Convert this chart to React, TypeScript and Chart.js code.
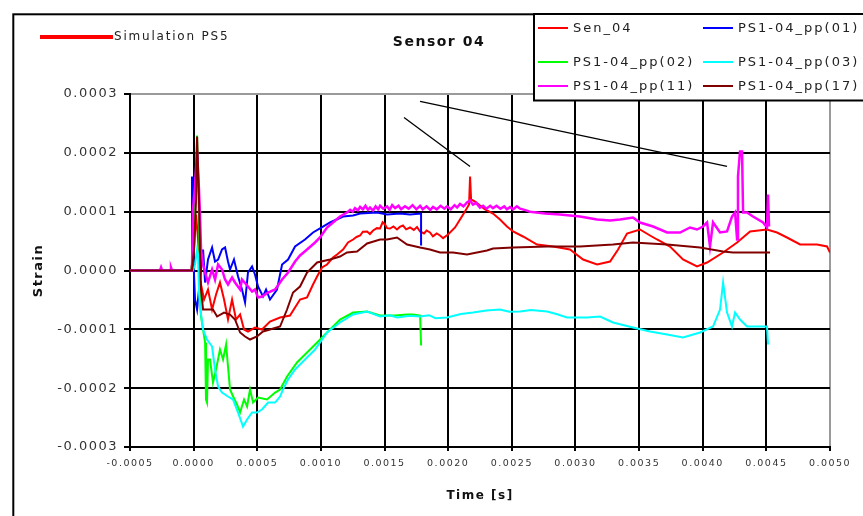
import React, { useEffect, useRef } from 'react';
import { Chart, registerables } from 'chart.js';

Chart.register(...registerables);

const FONT = '"DejaVu Sans", "Liberation Sans", sans-serif';
const MICRO = 1e-6; // arrays below are in microseconds / microstrain

// Axis ranges (seconds / strain)
const X_MIN = -0.0005;
const X_MAX = 0.005;
const X_STEP = 0.0005;
const Y_MIN = -0.0003;
const Y_MAX = 0.0003;
const Y_STEP = 0.0001;

const TITLE = 'Sensor 04';
const X_TITLE = 'Time [s]';
const Y_TITLE = 'Strain';
const SIM_LABEL = 'Simulation PS5';

// Sen_04 (red)
const senTime = [-500, -20, 3, 19, 35, 50, 82, 113, 145, 176, 207, 239, 270, 302, 333, 365, 396, 427, 482, 537, 600, 679, 757, 836, 891, 938, 970, 1009, 1048, 1095, 1127, 1174, 1213, 1253, 1280, 1308, 1330, 1363, 1385, 1410, 1440, 1465, 1485, 1504, 1520, 1543, 1570, 1598, 1620, 1645, 1670, 1700, 1730, 1755, 1779, 1810, 1830, 1857, 1880, 1910, 1936, 1960, 1999, 2054, 2093, 2132, 2164, 2172, 2180, 2211, 2250, 2290, 2352, 2407, 2462, 2510, 2588, 2698, 2824, 2957, 3060, 3170, 3272, 3335, 3405, 3507, 3586, 3641, 3743, 3845, 3955, 4034, 4160, 4270, 4372, 4505, 4584, 4662, 4765, 4898, 4977, 5000];
const senStrain = [0, 0, 35.7, 95.2, 52.7, -15.3, -49.3, -32.3, -66.3, -40.8, -20.4, -49.3, -83.3, -49.3, -83.3, -74.8, -100.3, -103.7, -96.9, -100.3, -86.7, -79.9, -76.5, -49.3, -45.9, -23.8, -10.2, 5.1, 10.2, 22.1, 27.2, 35.7, 47.6, 52.7, 57, 59.5, 66, 66.3, 62, 68, 72, 71.4, 82, 78.2, 72, 71.4, 75, 69.7, 74, 76.5, 70, 73.1, 69, 74, 66.3, 63, 68, 64.6, 58, 63, 59.5, 55, 61.2, 73.1, 86.7, 100.3, 112.2, 159.8, 120.7, 117.3, 110.5, 103.7, 96.9, 86.7, 74.8, 66.3, 57.8, 44.2, 40.8, 35.7, 18.7, 10.2, 15.3, 35.7, 62.9, 69.7, 59.5, 52.7, 40.8, 18.7, 6.8, 13.6, 30.6, 47.6, 66.3, 69.7, 64.6, 56.1, 44.2, 44.2, 40.8, 30.6];

// PS1-04_pp(01) (blue)
const pp01Time = [-500, -20, -13, -5, 11, 27, 42, 58, 74, 90, 113, 145, 168, 192, 223, 247, 270, 286, 317, 349, 380, 404, 427, 459, 482, 506, 545, 569, 600, 655, 695, 742, 797, 875, 938, 993, 1072, 1174, 1253, 1308, 1441, 1520, 1622, 1700, 1787, 1787, 1795];
const pp01Strain = [0, 0, 159.8, 35.7, -49.3, -66.3, -32.3, 1.7, 35.7, -20.4, 18.7, 39.1, 15.3, 18.7, 35.7, 39.1, 15.3, 1.7, 18.7, -10.2, -32.3, -54.4, -3.4, 6.8, -6.8, -27.2, -44.2, -32.3, -49.3, -32.3, 10.2, 18.7, 40.8, 52.7, 64.6, 71.4, 81.6, 91.8, 93.5, 96.9, 98.6, 95.2, 96.9, 95.2, 96.9, 44.2, 44.2];

// PS1-04_pp(02) (green)
const pp02Time = [-500, -20, -5, 11, 27, 42, 50, 58, 74, 90, 97, 105, 113, 129, 152, 176, 207, 231, 255, 270, 286, 310, 341, 365, 396, 420, 443, 467, 506, 577, 640, 679, 734, 812, 891, 970, 1048, 1150, 1253, 1363, 1465, 1583, 1677, 1724, 1779, 1787, 1795];
const pp02Strain = [0, 0, 18.7, 120.7, 229.5, 86.7, -49.3, -78.2, -100.3, -122.4, -219.3, -224.4, -151.3, -151.3, -190.4, -168.3, -134.3, -151.3, -125.8, -163.2, -202.3, -214.2, -227.8, -241.4, -219.3, -231.2, -202.3, -224.4, -215.9, -219.3, -207.4, -202.3, -180.2, -156.4, -139.4, -122.4, -105.4, -83.3, -71.4, -69.7, -76.5, -76.5, -74.8, -74.8, -76.5, -125.8, -125.8];

// PS1-04_pp(03) (cyan)
const pp03Time = [-500, -20, -5, 11, 27, 35, 42, 50, 74, 105, 145, 168, 192, 223, 270, 310, 349, 388, 420, 459, 498, 537, 585, 640, 679, 702, 742, 797, 875, 954, 1048, 1150, 1253, 1363, 1465, 1540, 1600, 1700, 1779, 1850, 1900, 1991, 2100, 2195, 2300, 2407, 2480, 2565, 2650, 2777, 2850, 2934, 3091, 3193, 3295, 3452, 3586, 3720, 3845, 3979, 4081, 4136, 4160, 4191, 4230, 4254, 4293, 4348, 4505, 4513];
const pp03Strain = [0, 0, 0, 10.2, 35.7, 27.2, -37.4, -61.2, -100.3, -117.3, -129.2, -168.3, -197.2, -207.4, -214.2, -219.3, -241.4, -265.2, -253.3, -241.4, -241.4, -236.3, -224.4, -224.4, -214.2, -202.3, -185.3, -168.3, -151.3, -134.3, -105.4, -88.4, -74.8, -69.7, -78.2, -76, -80, -77, -78.2, -76, -81, -79.9, -74, -71.4, -68, -66.3, -70, -69.7, -67, -69.7, -74, -79.9, -79.9, -78.2, -88.4, -96.9, -103.7, -108.8, -113.9, -105.4, -95.2, -66.3, -20.4, -71.4, -95.2, -71.4, -83.3, -95.2, -95.2, -125.8];

// PS1-04_pp(11) (magenta)
const pp11Time = [-500, -264, -256, -248, -185, -178, -170, -13, -5, 11, 27, 42, 50, 58, 74, 90, 113, 145, 168, 192, 223, 247, 270, 302, 325, 365, 380, 427, 459, 482, 506, 537, 585, 640, 695, 742, 797, 836, 891, 954, 993, 1048, 1095, 1150, 1205, 1230, 1250, 1268, 1290, 1308, 1330, 1350, 1370, 1386, 1410, 1430, 1450, 1465, 1490, 1520, 1540, 1560, 1583, 1610, 1630, 1661, 1690, 1720, 1750, 1779, 1800, 1830, 1860, 1881, 1910, 1940, 1970, 1991, 2020, 2050, 2070, 2093, 2120, 2150, 2172, 2195, 2220, 2250, 2274, 2300, 2330, 2352, 2380, 2410, 2440, 2462, 2486, 2510, 2540, 2565, 2600, 2643, 2761, 2879, 3036, 3170, 3272, 3350, 3452, 3507, 3610, 3720, 3822, 3900, 3955, 4002, 4034, 4057, 4081, 4136, 4191, 4230, 4254, 4270, 4277, 4293, 4309, 4317, 4348, 4395, 4474, 4505, 4513, 4521];
const pp11Strain = [0, 0, 5.1, 0, 0, 5.1, 0, 0, 103.7, 146.2, 202.3, 137.7, 95.2, 35.7, 10.2, -3.4, -20.4, 1.7, -15.3, 10.2, 1.7, -15.3, -23.8, -11.9, -20.4, -32.3, -15.3, -27.2, -35.7, -32.3, -45.9, -44.2, -37.4, -32.3, -15.3, -3.4, 15.3, 25.5, 35.7, 47.6, 56.1, 73.1, 81.6, 91.8, 98.6, 103, 100, 106, 102, 108, 104, 110, 103, 107, 102, 109, 104, 110, 105, 109, 103, 111, 106, 110, 104, 109, 105, 111, 104, 110, 104, 109, 103, 108, 104, 110, 105, 109, 104, 111, 107, 113, 109, 116, 119, 112, 115, 107, 110, 105, 110, 106, 110, 105, 109, 104, 108, 104, 109, 105, 103, 100, 96.9, 95.2, 91.8, 86.7, 85.0, 86.7, 90.1, 81.6, 74.8, 64.6, 64.6, 73.1, 69.7, 74.8, 81.6, 40.8, 81.6, 64.6, 66.3, 91.8, 98.6, 52.7, 159.8, 202.3, 202.3, 98.6, 98.6, 91.8, 81.6, 73.1, 129.2, 74.8];

// PS1-04_pp(17) (dark red)
const pp17Time = [-500, -13, 3, 19, 27, 42, 50, 58, 74, 105, 152, 184, 239, 286, 325, 365, 404, 443, 498, 545, 600, 679, 734, 781, 836, 891, 970, 1072, 1150, 1205, 1284, 1363, 1465, 1520, 1598, 1677, 1779, 1857, 1936, 2038, 2148, 2305, 2352, 2510, 2777, 3036, 3295, 3452, 3720, 3979, 4160, 4238, 4529];
const pp17Strain = [0, 0, 35.7, 120.7, 227.8, 120.7, 35.7, -32.3, -66.3, -66.3, -66.3, -78.2, -71.4, -74.8, -83.3, -105.4, -112.2, -117.3, -112.2, -103.7, -100.3, -95.2, -66.3, -37.4, -27.2, -3.4, 13.6, 18.7, 23.8, 30.6, 32.3, 45.9, 52.7, 52.7, 56.1, 44.2, 39.1, 35.7, 30.6, 30.6, 27.2, 34.0, 37.4, 39.1, 40.8, 40.8, 44.2, 47.6, 44.2, 39.1, 32.3, 30.6, 30.6];

// Annotation pointer lines
const pointerATime = [1653, 2172];
const pointerAStrain = [260.1, 176.8];
const pointerBTime = [1779, 4191];
const pointerBStrain = [287.3, 176.8];

function pts(t: number[], s: number[]) {
  const n = Math.min(t.length, s.length);
  const out: { x: number; y: number }[] = [];
  for (let i = 0; i < n; i++) out.push({ x: t[i] * MICRO, y: s[i] * MICRO });
  return out;
}

function fmt(v: number | string) {
  const n = Number(v);
  if (Math.abs(n) < 1e-12) return '0.0000';
  return n.toFixed(4);
}

const framePlugin = {
  id: 'frame',
  beforeDraw(chart: any) {
    const ctx = chart.ctx;
    ctx.save();
    ctx.fillStyle = '#ffffff';
    ctx.fillRect(0, 0, chart.width, chart.height);
    ctx.strokeStyle = '#000000';
    ctx.lineWidth = 2;
    ctx.strokeRect(13.3, 14.3, chart.width + 40, chart.height + 40);
    ctx.restore();
    try { ctx.letterSpacing = '1.5px'; } catch (e) { /* ignore */ }
  },
};

const legendPlugin = {
  id: 'customLegend',
  afterDraw(chart: any) {
    const ctx = chart.ctx;
    ctx.save();
    const sets = chart.data.datasets as any[];
    // simulation entry at top-left
    const sim = sets.find((d) => d.legendKind === 'sim');
    if (sim) {
      ctx.strokeStyle = sim.borderColor;
      ctx.lineWidth = 4;
      ctx.beginPath();
      ctx.moveTo(40, 37);
      ctx.lineTo(113, 37);
      ctx.stroke();
      try { ctx.letterSpacing = '1.8px'; } catch (e) { /* ignore */ }
      ctx.font = `12px ${FONT}`;
      ctx.fillStyle = '#222';
      ctx.textBaseline = 'middle';
      ctx.textAlign = 'left';
      ctx.fillText(sim.label, 114, 37);
    }
    // boxed legend top-right
    ctx.fillStyle = '#ffffff';
    ctx.fillRect(534, 14, 400, 86);
    ctx.strokeStyle = '#000';
    ctx.lineWidth = 2;
    ctx.strokeRect(534, 14, 400, 86.5);
    const items = sets.filter((d) => d.legendKind === 'box');
    const cols = [538, 703];
    const rows = [28, 62, 86];
    try { ctx.letterSpacing = '2px'; } catch (e) { /* ignore */ }
    ctx.font = `13px ${FONT}`;
    ctx.textBaseline = 'middle';
    ctx.textAlign = 'left';
    items.forEach((d, i) => {
      const cx = cols[i % 2];
      const cy = rows[Math.floor(i / 2)];
      ctx.strokeStyle = d.borderColor;
      ctx.lineWidth = 2;
      ctx.beginPath();
      ctx.moveTo(cx, cy);
      ctx.lineTo(cx + 30, cy);
      ctx.stroke();
      ctx.fillStyle = '#222';
      ctx.fillText(d.label, cx + 35, cy + 1);
    });
    ctx.restore();
  },
};

function series(label: string, color: string, t: number[], s: number[], order: number, width = 2) {
  return {
    label,
    data: pts(t, s),
    borderColor: color,
    backgroundColor: color,
    borderWidth: width,
    pointRadius: 0,
    tension: 0,
    fill: false,
    order,
    legendKind: 'box',
  };
}

export default function App() {
  const ref = useRef<HTMLCanvasElement>(null);

  useEffect(() => {
    if (!ref.current) return;
    const gridColor = (c: any) => (c.index === c.scale.ticks.length - 1 ? '#9a9a9a' : '#000000');
    const datasets: any[] = [
      series('Sen_04', '#ff0000', senTime, senStrain, 7),
      series('PS1-04_pp(01)', '#0000ff', pp01Time, pp01Strain, 6),
      series('PS1-04_pp(02)', '#00ff00', pp02Time, pp02Strain, 5),
      series('PS1-04_pp(03)', '#00ffff', pp03Time, pp03Strain, 4),
      series('PS1-04_pp(11)', '#ff00ff', pp11Time, pp11Strain, 3, 2.5),
      series('PS1-04_pp(17)', '#800000', pp17Time, pp17Strain, 2),
      { label: SIM_LABEL, data: [], borderColor: '#ff0000', borderWidth: 4, pointRadius: 0, legendKind: 'sim', order: 8 },
      { label: 'pointerA', data: pts(pointerATime, pointerAStrain), borderColor: '#000', borderWidth: 1.3, pointRadius: 0, order: 1, legendKind: 'none' },
      { label: 'pointerB', data: pts(pointerBTime, pointerBStrain), borderColor: '#000', borderWidth: 1.3, pointRadius: 0, order: 1, legendKind: 'none' },
    ];

    const chart = new Chart(ref.current, {
      type: 'line',
      data: { datasets },
      options: {
        responsive: false,
        animation: false,
        devicePixelRatio: 1,
        events: [],
        layout: { padding: { left: 15, right: 0, top: 0, bottom: 0 } },
        plugins: {
          legend: { display: false },
          tooltip: { enabled: false },
          title: {
            display: true,
            text: TITLE,
            color: '#111',
            font: { family: FONT, size: 14, weight: 'bold' },
            padding: { top: 33.6, bottom: 43.6 },
          },
        },
        scales: {
          x: {
            type: 'linear',
            position: 'bottom',
            min: X_MIN,
            max: X_MAX,
            afterFit: (s: any) => { s.height = 69; },
            ticks: {
              stepSize: X_STEP,
              autoSkip: false,
              maxRotation: 0,
              minRotation: 0,
              padding: 7,
              color: '#333',
              font: { family: FONT, size: 9.5 },
              callback: (v: any) => fmt(v),
            },
            grid: { color: gridColor, lineWidth: 2, tickLength: 4, tickColor: '#000', tickWidth: 2 },
            border: { color: '#000', width: 2 },
            title: {
              display: true,
              text: X_TITLE,
              color: '#111',
              font: { family: FONT, size: 12, weight: 'bold' },
              padding: { top: 0, bottom: 12.8 },
            },
          },
          y: {
            type: 'linear',
            position: 'left',
            min: Y_MIN,
            max: Y_MAX,
            afterFit: (s: any) => { s.width = 115; },
            ticks: {
              stepSize: Y_STEP,
              padding: 6,
              color: '#333',
              font: { family: FONT, size: 13 },
              callback: (v: any) => fmt(v),
            },
            grid: { color: gridColor, lineWidth: 2, tickLength: 6, tickColor: '#000', tickWidth: 2 },
            border: { color: '#000', width: 2 },
            title: {
              display: true,
              text: Y_TITLE,
              color: '#111',
              font: { family: FONT, size: 13, weight: 'bold' },
              padding: { top: 15.7, bottom: 0 },
            },
          },
          y2: {
            type: 'linear',
            position: 'right',
            display: true,
            afterFit: (s: any) => { s.width = 33; },
            grid: { display: false, drawTicks: false },
            border: { display: false },
            ticks: { display: false },
          },
        },
      } as any,
      plugins: [framePlugin, legendPlugin],
    } as any);
    return () => chart.destroy();
  }, []);

  return (
    <div style={{ position: 'fixed', left: 0, top: 0, width: 863, height: 516, background: '#fff' }}>
      <canvas ref={ref} width={863} height={516} style={{ display: 'block', width: 863, height: 516 }} />
    </div>
  );
}
